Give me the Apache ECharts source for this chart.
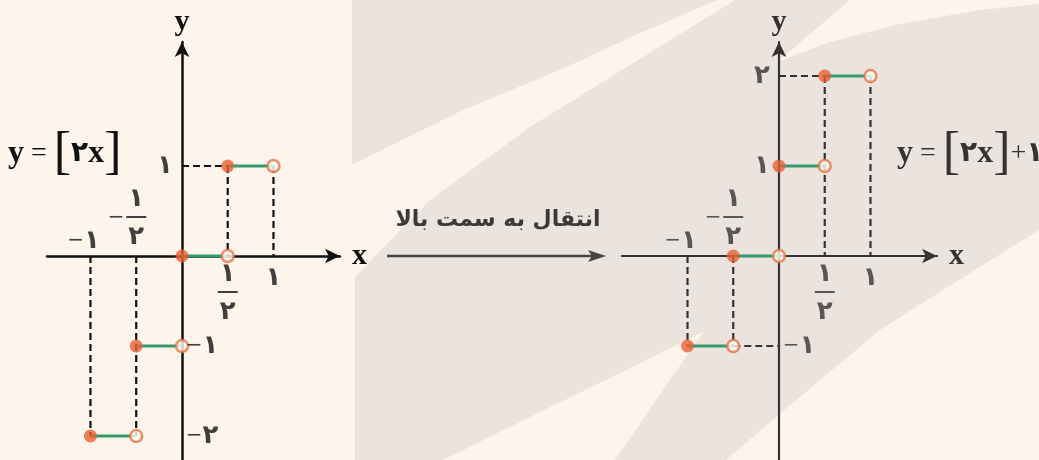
<!DOCTYPE html>
<html><head><meta charset="utf-8">
<script src="https://cdn.jsdelivr.net/npm/echarts@6/dist/echarts.min.js"></script>
<style>html,body{margin:0;padding:0;background:#fdf5eb}#c{width:1039px;height:460px}</style>
</head><body><div id="c"></div>
<script>
// ---------------- data ----------------
const stepStarts = [-1, -0.5, 0, 0.5];      // left ends of the steps
const stepWidth = 0.5;
const leftValues = [-2, -1, 0, 1];          // y = [2x]
const rightValues = [-1, 0, 1, 2];          // y = [2x] + 1
const leftYTicks = [1, -1, -2];
const leftXTicks = [-1, -0.5, 0.5, 1];
const rightYTicks = [2, 1, -1];
const rightXTicks = [-1, -0.5, 0.5, 1];
// dashed guide segments [x1, y1, x2, y2]
const leftGuides = [[-1,0,-1,-2],[-0.5,0,-0.5,-2],[0.5,1,0.5,0],[1,1,1,0],[0,1,0.5,1]];
const rightGuides = [[-1,0,-1,-1],[-0.5,0,-0.5,-1],[0.5,2,0.5,0],[1,2,1,0],[0,2,0.5,2],[-0.5,-1,0,-1]];
const shiftText = 'انتقال به سمت بالا';

// ---------------- helpers ----------------
const faDigits = '۰۱۲۳۴۵۶۷۸۹';
const fa = n => String(n).replace(/\d/g, d => faDigits[d]);
const GREEN = '#34996c', DOT = '#ea5f36', RING = '#e4754b', OPENFILL = '#fffaf3';
const DIGIT_FONT = 'DejaVu Sans';

function fracRich(color) {
  return {
    n: {fontFamily: DIGIT_FONT, fontWeight: 'bold', fontSize: 26, lineHeight: 34, align: 'center', color},
    b: {width: 20, height: 2, lineHeight: 2, backgroundColor: color, align: 'center'},
    d: {fontFamily: DIGIT_FONT, fontWeight: 'bold', fontSize: 26, lineHeight: 38, align: 'center', color},
    i: {fontFamily: DIGIT_FONT, fontWeight: 'bold', fontSize: 26, color},
    m: {fontFamily: DIGIT_FONT, fontSize: 20, color}
  };
}

function panelSeries(gi, values, xTicks, yTicks, guides, color) {
  const s = [];
  guides.forEach(g => s.push({
    type: 'line', xAxisIndex: gi, yAxisIndex: gi, data: [[g[0], g[1]], [g[2], g[3]]],
    symbol: 'none', z: 2, lineStyle: {color, width: 2.2, type: [7, 4]}
  }));
  stepStarts.forEach((x, k) => s.push({
    type: 'line', xAxisIndex: gi, yAxisIndex: gi, data: [[x, values[k]], [x + stepWidth, values[k]]],
    symbol: 'none', z: 3, lineStyle: {color: GREEN, width: 3}
  }));
  s.push({type: 'scatter', xAxisIndex: gi, yAxisIndex: gi, z: 4, symbolSize: 13,
    itemStyle: {color: DOT}, data: stepStarts.map((x, k) => [x, values[k]])});
  s.push({type: 'scatter', xAxisIndex: gi, yAxisIndex: gi, z: 4, symbolSize: 12,
    itemStyle: {color: OPENFILL, borderColor: RING, borderWidth: 2.5},
    data: stepStarts.map((x, k) => [x + stepWidth, values[k]])});
  // tick labels
  const rich = fracRich(color);
  const items = [];
  yTicks.forEach(v => items.push({value: [0, v], label: {
    formatter: (v < 0 ? '{m|−}' : '') + '{i|' + fa(Math.abs(v)) + '}', offset: [v > 0 ? -17 : 20, 0]}}));
  xTicks.forEach(v => {
    const a = Math.abs(v);
    if (a % 1 === 0) {
      items.push({value: [v, 0], label: {formatter: (v < 0 ? '{m|−}' : '') + '{i|' + fa(a) + '}',
        offset: [v < 0 ? -7 : 0, v < 0 ? -15 : 22]}});
    } else {
      items.push({value: [v, 0], label: {formatter: '{n|' + fa(1) + '}\n{b|}\n{d|' + fa(Math.round(1 / a)) + '}',
        offset: [0, v < 0 ? -37 : 38]}});
      if (v < 0) items.push({value: [v, 0], label: {formatter: '{m|−}', offset: [-20, -38]}});
    }
  });
  s.push({type: 'scatter', xAxisIndex: gi, yAxisIndex: gi, z: 5, symbolSize: 0.1,
    itemStyle: {color: 'transparent'},
    label: {show: true, position: 'inside', rich, color},
    data: items});
  return s;
}

function axisPair(gi, xmin, xmax, color, width) {
  const nameStyle = {fontFamily: 'Liberation Serif', fontWeight: 'bold', fontSize: 30, color};
  const line = {onZero: true, symbol: ['none', 'arrow'], symbolSize: [11, 15], lineStyle: {color, width}};
  return {
    x: {gridIndex: gi, type: 'value', min: xmin, max: xmax, axisLine: line,
      axisTick: {show: false}, axisLabel: {show: false}, splitLine: {show: false},
      name: 'x', nameLocation: 'end', nameGap: 12, nameTextStyle: nameStyle},
    y: {gridIndex: gi, type: 'value', min: -2.4, max: 2.378, axisLine: line,
      axisTick: {show: false}, axisLabel: {show: false}, splitLine: {show: false},
      name: 'y', nameLocation: 'end', nameGap: 5, nameTextStyle: nameStyle}
  };
}

const A0 = axisPair(0, -1.475, 1.727, '#111', 2.5);
const A1 = axisPair(1, -1.716, 1.727, '#333', 2.2);

const GRAY = '#ebe4de';
const formulaRich = color => ({
  v: {fontFamily: 'Liberation Serif', fontWeight: 'bold', fontSize: 32, fill: color},
  e: {fontFamily: 'Liberation Serif', fontSize: 28, fill: color},
  b: {fontFamily: 'Liberation Serif', fontSize: 52, fill: color},
  d: {fontFamily: DIGIT_FONT, fontWeight: 'bold', fontSize: 28, fill: color},
  p: {fontFamily: 'Liberation Serif', fontSize: 28, fill: color}
});

const option = {
  backgroundColor: '#fdf5eb',
  animation: false,
  grid: [
    {left: 47, width: 293, top: 42, height: 430, outerBoundsMode: 'none'},
    {left: 622, width: 315, top: 42, height: 430, outerBoundsMode: 'none'}
  ],
  xAxis: [A0.x, A1.x],
  yAxis: [A0.y, A1.y],
  graphic: [
    {type: 'polygon', z: -10, silent: true, shape: {points: [[352,0],[718,0],[640,33],[560,70],[463,110],[352,165]]}, style: {fill: GRAY}},
    {type: 'polygon', z: -10, silent: true, shape: {points: [[355,277],[430,200],[530,127],[630,65],[735,0],[850,0],[777,62],[830,42],[900,24],[980,10],[1039,4],[1039,230],[959,280],[880,330],[782,412],[726,460],[615,460],[703,332],[443,460],[355,460]]}, style: {fill: GRAY}},
    {type: 'text', z: 10, x: 8, y: 154, style: {text: '{v|y}{e| = }{b|[}{d|۲}{v|x}{b|]}', rich: formulaRich('#111'), verticalAlign: 'middle'}},
    {type: 'text', z: 10, x: 897, y: 154, style: {text: '{v|y}{e| = }{b|[}{d|۲}{v|x}{b|]}{p|+}{d|۱}', rich: formulaRich('#333'), verticalAlign: 'middle'}},
    {type: 'text', z: 10, x: 498, y: 220, style: {text: shiftText, font: 'bold 22px "DejaVu Sans"', fill: '#3a3a3a', align: 'center', verticalAlign: 'middle'}},
    {type: 'line', z: 10, shape: {x1: 387, y1: 256, x2: 595, y2: 256}, style: {stroke: '#444', lineWidth: 2.5}},
    {type: 'polygon', z: 10, shape: {points: [[606,256],[588,250],[592,256],[588,262]]}, style: {fill: '#444'}}
  ],
  series: [].concat(
    panelSeries(0, leftValues, leftXTicks, leftYTicks, leftGuides, '#111'),
    panelSeries(1, rightValues, rightXTicks, rightYTicks, rightGuides, '#333')
  )
};
echarts.init(document.getElementById('c'), null, {renderer: 'canvas'}).setOption(option);
</script></body></html>
